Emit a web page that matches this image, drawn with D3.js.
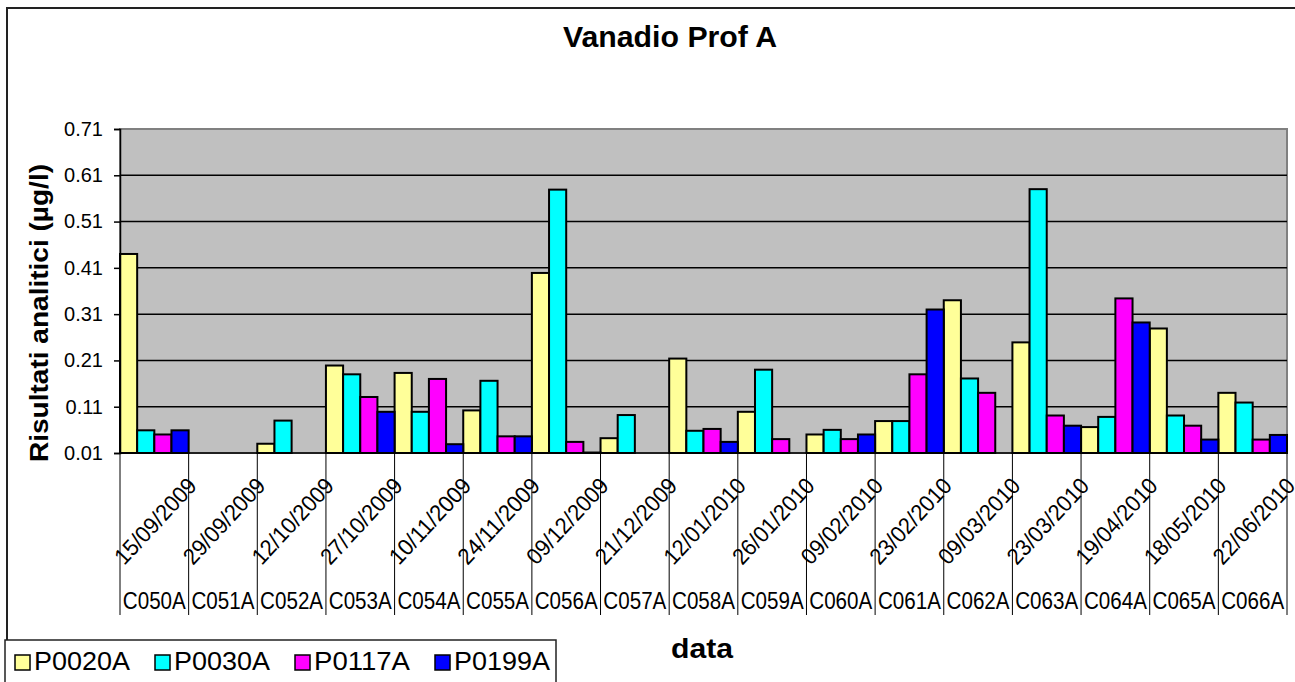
<!DOCTYPE html>
<html>
<head>
<meta charset="utf-8">
<script src="https://cdn.jsdelivr.net/npm/d3@7"></script>
<style>
  body { margin: 0; background: #fff; }
  text { font-family: Arial, "Liberation Sans", sans-serif; }
</style>
</head>
<body>
<div id="chart"></div>
<script>
const dates = ['15/09/2009','29/09/2009','12/10/2009','27/10/2009','10/11/2009','24/11/2009','09/12/2009','21/12/2009',
  '12/01/2010','26/01/2010','09/02/2010','23/02/2010','09/03/2010','23/03/2010','19/04/2010','18/05/2010','22/06/2010'];
const codes = ['C050A','C051A','C052A','C053A','C054A','C055A','C056A','C057A','C058A','C059A','C060A','C061A',
  'C062A','C063A','C064A','C065A','C066A'];
const seriesNames = ['P0020A','P0030A','P0117A','P0199A'];
const P0020A = [0.44, null, 0.03, 0.199, 0.183, 0.102, 0.399, 0.042, 0.214, 0.099, 0.05, 0.079, 0.34, 0.249, 0.066, 0.279, 0.14];
const P0030A = [0.059, null, 0.08, 0.18, 0.099, 0.166, 0.579, 0.092, 0.058, 0.19, 0.06, 0.079, 0.171, 0.58, 0.088, 0.091, 0.119];
const P0117A = [0.05, null, null, 0.131, 0.17, 0.046, 0.034, null, 0.062, 0.04, 0.04, 0.18, 0.14, 0.091, 0.344, 0.069, 0.039];
const P0199A = [0.059, null, null, 0.099, 0.029, 0.046, 0.011, null, 0.034, null, 0.05, 0.32, null, 0.069, 0.292, 0.039, 0.049];
const yTicks = [0.01, 0.11, 0.21, 0.31, 0.41, 0.51, 0.61, 0.71];
const colors = ['#FFFF99', '#00FFFF', '#FF00FF', '#0000FF'];

const width = 1295, height = 682;
const plot = { left: 120, right: 1287, top: 129, bottom: 453 };

const svg = d3.select('#chart').append('svg')
  .attr('width', width)
  .attr('height', height);

// outer chart frame (runs off the right/bottom edge)
svg.append('rect')
  .attr('x', 7).attr('y', 8)
  .attr('width', 1310).attr('height', 700)
  .attr('fill', '#fff')
  .attr('stroke', '#222').attr('stroke-width', 2);

svg.append('text')
  .attr('x', 670).attr('y', 47)
  .attr('text-anchor', 'middle')
  .attr('font-size', 29).attr('font-weight', 'bold')
  .attr('textLength', 214)
  .attr('lengthAdjust', 'spacingAndGlyphs')
  .text('Vanadio Prof A');

const xScale = d3.scaleBand()
  .domain(codes)
  .range([plot.left, plot.right]);

const sub = d3.scaleBand()
  .domain(seriesNames)
  .range([0, xScale.bandwidth()]);

const yScale = d3.scaleLinear()
  .domain([0.01, 0.71])
  .range([plot.bottom, plot.top]);

// plot background
svg.append('rect')
  .attr('x', plot.left).attr('y', plot.top)
  .attr('width', plot.right - plot.left).attr('height', plot.bottom - plot.top)
  .attr('fill', '#C0C0C0')
  .attr('stroke', '#808080').attr('stroke-width', 2);

// gridlines
svg.append('g')
  .selectAll('line')
  .data(yTicks.slice(1, -1))
  .enter()
  .append('line')
  .attr('x1', plot.left).attr('x2', plot.right)
  .attr('y1', d => yScale(d)).attr('y2', d => yScale(d))
  .attr('stroke', '#000').attr('stroke-width', 1.5);

// bars
const all = [P0020A, P0030A, P0117A, P0199A];
all.forEach((vals, si) => {
  svg.append('g')
    .selectAll('rect')
    .data(vals.map((v, i) => ({ v, c: codes[i] })).filter(d => d.v !== null))
    .enter()
    .append('rect')
    .attr('x', d => xScale(d.c) + sub(seriesNames[si]))
    .attr('y', d => yScale(d.v))
    .attr('width', sub.bandwidth())
    .attr('height', d => yScale(0.01) - yScale(d.v))
    .attr('fill', colors[si])
    .attr('stroke', '#000').attr('stroke-width', 2);
});

// y axis
const yAxis = d3.axisLeft(yScale)
  .tickValues(yTicks)
  .tickFormat(d3.format('.2f'))
  .tickSize(6)
  .tickPadding(11);

const ya = svg.append('g')
  .attr('transform', `translate(${plot.left}, 0)`)
  .call(yAxis);
ya.select('.domain').attr('stroke', '#000').attr('stroke-width', 1.5);
ya.selectAll('.tick line').attr('stroke', '#000').attr('stroke-width', 1.5);
ya.selectAll('.tick text')
  .attr('font-size', 20)
  .attr('fill', '#000')
  .attr('font-family', 'Arial, "Liberation Sans", sans-serif');

// x axis baseline and category dividers
svg.append('line')
  .attr('x1', plot.left).attr('x2', plot.right)
  .attr('y1', plot.bottom).attr('y2', plot.bottom)
  .attr('stroke', '#000').attr('stroke-width', 1.5);

const bounds = codes.map(c => xScale(c)).concat([plot.right]);
svg.append('g')
  .selectAll('line')
  .data(bounds)
  .enter()
  .append('line')
  .attr('x1', d => d).attr('x2', d => d)
  .attr('y1', plot.bottom).attr('y2', 615)
  .attr('stroke', '#000').attr('stroke-width', 1);

// dates (rotated)
svg.append('g')
  .selectAll('text')
  .data(dates)
  .enter()
  .append('text')
  .attr('transform', (d, i) => `translate(${xScale(codes[i]) + xScale.bandwidth() / 2 + 1}, 521) rotate(-47)`)
  .attr('text-anchor', 'middle')
  .attr('dominant-baseline', 'central')
  .attr('font-size', 23)
  .attr('textLength', 108)
  .attr('lengthAdjust', 'spacingAndGlyphs')
  .text(d => d);

// codes
svg.append('g')
  .selectAll('text')
  .data(codes)
  .enter()
  .append('text')
  .attr('x', d => xScale(d) + xScale.bandwidth() / 2)
  .attr('y', 609)
  .attr('text-anchor', 'middle')
  .attr('font-size', 24)
  .attr('textLength', 63)
  .attr('lengthAdjust', 'spacingAndGlyphs')
  .text(d => d);

// axis titles
svg.append('text')
  .attr('transform', 'translate(48, 313) rotate(-90)')
  .attr('text-anchor', 'middle')
  .attr('font-size', 26).attr('font-weight', 'bold')
  .attr('textLength', 298)
  .attr('lengthAdjust', 'spacingAndGlyphs')
  .text('Risultati analitici (µg/l)');

svg.append('text')
  .attr('x', 702).attr('y', 658)
  .attr('text-anchor', 'middle')
  .attr('font-size', 28).attr('font-weight', 'bold')
  .attr('textLength', 62)
  .attr('lengthAdjust', 'spacingAndGlyphs')
  .text('data');

// legend
const legend = svg.append('g');
legend.append('rect')
  .attr('x', 5).attr('y', 640)
  .attr('width', 551).attr('height', 60)
  .attr('fill', '#fff')
  .attr('stroke', '#222').attr('stroke-width', 1.5);

const item = legend.selectAll('g.item')
  .data(seriesNames)
  .enter()
  .append('g')
  .attr('class', 'item')
  .attr('transform', (d, i) => `translate(${15 + i * 140}, 0)`);

item.append('rect')
  .attr('x', 0).attr('y', 655)
  .attr('width', 15).attr('height', 15)
  .attr('fill', (d, i) => colors[i])
  .attr('stroke', '#000').attr('stroke-width', 1.5);

item.append('text')
  .attr('x', 19).attr('y', 670)
  .attr('font-size', 26)
  .attr('textLength', 96)
  .attr('lengthAdjust', 'spacingAndGlyphs')
  .text(d => d);
</script>
</body>
</html>
